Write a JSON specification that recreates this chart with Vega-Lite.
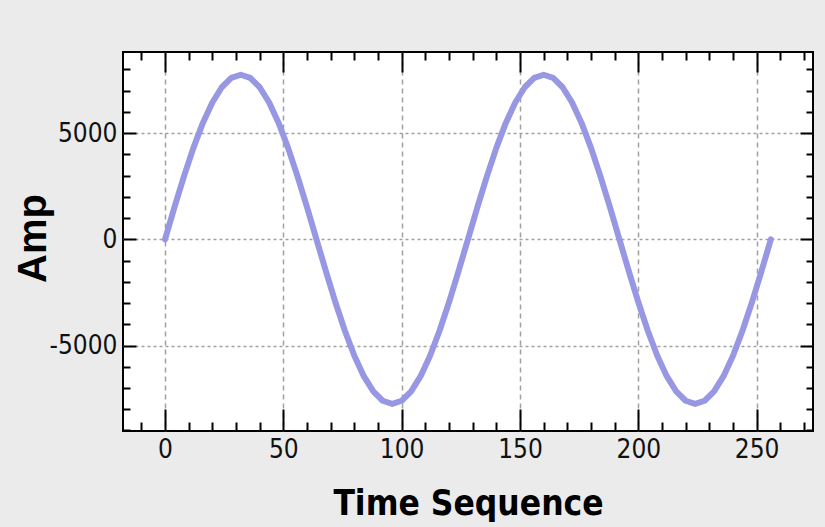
{
  "$schema": "https://vega.github.io/schema/vega-lite/v6.json",
  "width": 690,
  "height": 379,
  "autosize": {"type": "none"},
  "padding": {"left": 123, "top": 52, "right": 12, "bottom": 96},
  "background": "#ebebeb",
  "config": {"view": {"fill": "white", "stroke": "black", "strokeWidth": 2}},
  "data": {"values": [
    {"t": 0, "amp": 0}, {"t": 4, "amp": 1512}, {"t": 8, "amp": 2966}, {"t": 12, "amp": 4306},
    {"t": 16, "amp": 5480}, {"t": 20, "amp": 6444}, {"t": 24, "amp": 7160}, {"t": 28, "amp": 7601},
    {"t": 32, "amp": 7750}, {"t": 36, "amp": 7601}, {"t": 40, "amp": 7160}, {"t": 44, "amp": 6444},
    {"t": 48, "amp": 5480}, {"t": 52, "amp": 4306}, {"t": 56, "amp": 2966}, {"t": 60, "amp": 1512},
    {"t": 64, "amp": 0}, {"t": 68, "amp": -1512}, {"t": 72, "amp": -2966}, {"t": 76, "amp": -4306},
    {"t": 80, "amp": -5480}, {"t": 84, "amp": -6444}, {"t": 88, "amp": -7160}, {"t": 92, "amp": -7601},
    {"t": 96, "amp": -7750}, {"t": 100, "amp": -7601}, {"t": 104, "amp": -7160}, {"t": 108, "amp": -6444},
    {"t": 112, "amp": -5480}, {"t": 116, "amp": -4306}, {"t": 120, "amp": -2966}, {"t": 124, "amp": -1512},
    {"t": 128, "amp": 0}, {"t": 132, "amp": 1512}, {"t": 136, "amp": 2966}, {"t": 140, "amp": 4306},
    {"t": 144, "amp": 5480}, {"t": 148, "amp": 6444}, {"t": 152, "amp": 7160}, {"t": 156, "amp": 7601},
    {"t": 160, "amp": 7750}, {"t": 164, "amp": 7601}, {"t": 168, "amp": 7160}, {"t": 172, "amp": 6444},
    {"t": 176, "amp": 5480}, {"t": 180, "amp": 4306}, {"t": 184, "amp": 2966}, {"t": 188, "amp": 1512},
    {"t": 192, "amp": 0}, {"t": 196, "amp": -1512}, {"t": 200, "amp": -2966}, {"t": 204, "amp": -4306},
    {"t": 208, "amp": -5480}, {"t": 212, "amp": -6444}, {"t": 216, "amp": -7160}, {"t": 220, "amp": -7601},
    {"t": 224, "amp": -7750}, {"t": 228, "amp": -7601}, {"t": 232, "amp": -7160}, {"t": 236, "amp": -6444},
    {"t": 240, "amp": -5480}, {"t": 244, "amp": -4306}, {"t": 248, "amp": -2966}, {"t": 252, "amp": -1512},
    {"t": 256, "amp": 0}
  ]},
  "layer": [
    {
      "mark": {"type": "line", "color": "#9797e3", "strokeWidth": 6, "strokeJoin": "round", "strokeCap": "round"},
      "encoding": {
        "x": {"field": "t", "type": "quantitative",
          "scale": {"domain": [-17.75, 273.8], "nice": false, "zero": false},
          "axis": {"orient": "bottom", "values": [0, 50, 100, 150, 200, 250], "ticks": false, "domain": false,
            "labelExpr": "datum.value + ''",
            "grid": true, "gridDash": [5, 4], "gridColor": "#a0a0a0", "gridWidth": 1.5,
            "labelFont": "DejaVu Sans Condensed, sans-serif", "labelFontSize": 26, "labelColor": "#111",
            "labelPadding": 5,
            "title": "Time Sequence", "titleFont": "DejaVu Sans Condensed, sans-serif", "titleFontSize": 35,
            "titleFontWeight": "bold", "titleColor": "black", "titleBaseline": "alphabetic", "titleY": 83}},
        "y": {"field": "amp", "type": "quantitative",
          "scale": {"domain": [-9025, 8820], "nice": false, "zero": false},
          "axis": {"orient": "left", "values": [-5000, 0, 5000], "ticks": false, "domain": false,
            "labelExpr": "datum.value + ''",
            "grid": true, "gridDash": [3, 3], "gridColor": "#a0a0a0", "gridWidth": 1.5,
            "labelFont": "DejaVu Sans Condensed, sans-serif", "labelFontSize": 26, "labelColor": "#111",
            "labelPadding": 6,
            "title": "Amp", "titleFont": "Liberation Sans, sans-serif", "titleFontSize": 40, "titleFontWeight": "bold",
            "titleColor": "black", "titleBaseline": "alphabetic", "titleAngle": -90, "titleX": -78, "titleY": 186, "titleAlign": "center"}}
      }
    },
    {
      "mark": {"type": "line", "strokeOpacity": 0},
      "encoding": {
        "x": {"field": "t", "type": "quantitative",
          "scale": {"domain": [-17.75, 273.8], "nice": false, "zero": false},
          "axis": {"orient": "bottom", "values": [-10, 0, 10, 20, 30, 40, 50, 60, 70, 80, 90, 100, 110, 120, 130, 140, 150, 160, 170, 180, 190, 200, 210, 220, 230, 240, 250, 260, 270],
            "labels": false, "domain": false, "grid": false, "ticks": true, "tickColor": "black", "tickWidth": 2,
            "tickSize": {"condition": {"test": "datum.value % 50 === 0", "value": -22}, "value": -9}, "title": null}},
        "y": {"field": "amp", "type": "quantitative",
          "scale": {"domain": [-9025, 8820], "nice": false, "zero": false},
          "axis": {"orient": "left", "values": [-9000, -8000, -7000, -6000, -5000, -4000, -3000, -2000, -1000, 0, 1000, 2000, 3000, 4000, 5000, 6000, 7000, 8000],
            "labels": false, "domain": false, "grid": false, "ticks": true, "tickColor": "black", "tickWidth": 2,
            "tickSize": {"condition": {"test": "datum.value % 5000 === 0", "value": -13}, "value": -7}, "title": null}}
      }
    },
    {
      "mark": {"type": "line", "strokeOpacity": 0},
      "encoding": {
        "x": {"field": "t", "type": "quantitative",
          "scale": {"domain": [-17.75, 273.8], "nice": false, "zero": false},
          "axis": {"orient": "top", "values": [-10, 0, 10, 20, 30, 40, 50, 60, 70, 80, 90, 100, 110, 120, 130, 140, 150, 160, 170, 180, 190, 200, 210, 220, 230, 240, 250, 260, 270],
            "labels": false, "domain": false, "grid": false, "ticks": true, "tickColor": "black", "tickWidth": 2,
            "tickSize": {"condition": {"test": "datum.value % 50 === 0", "value": -20}, "value": -8}, "title": null}},
        "y": {"field": "amp", "type": "quantitative",
          "scale": {"domain": [-9025, 8820], "nice": false, "zero": false},
          "axis": {"orient": "right", "values": [-9000, -8000, -7000, -6000, -5000, -4000, -3000, -2000, -1000, 0, 1000, 2000, 3000, 4000, 5000, 6000, 7000, 8000],
            "labels": false, "domain": false, "grid": false, "ticks": true, "tickColor": "black", "tickWidth": 2,
            "tickSize": {"condition": {"test": "datum.value % 5000 === 0", "value": -13}, "value": -7}, "title": null}}
      }
    }
  ],
  "resolve": {"axis": {"x": "independent", "y": "independent"}}
}
